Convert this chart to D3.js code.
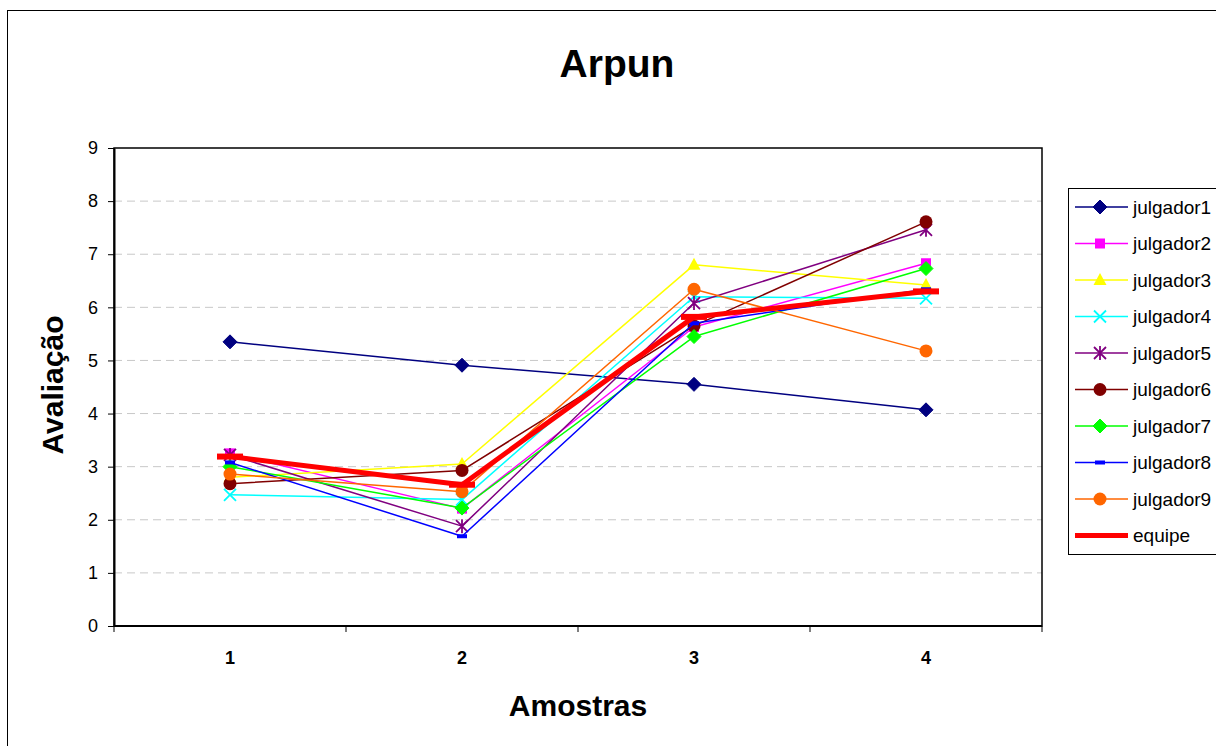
<!DOCTYPE html>
<html>
<head>
<meta charset="utf-8">
<script src="https://cdn.jsdelivr.net/npm/d3@7"></script>
<style>
  body { margin: 0; background: #fff; }
  svg { display: block; font-family: Arial, "Liberation Sans", sans-serif; }
</style>
</head>
<body>
<script>
const samples = [1, 2, 3, 4];
const yTicks = [0, 1, 2, 3, 4, 5, 6, 7, 8, 9];
const names = ["julgador1", "julgador2", "julgador3", "julgador4", "julgador5",
               "julgador6", "julgador7", "julgador8", "julgador9", "equipe"];

const julgador1 = [5.35, 4.91, 4.55, 4.07];
const julgador2 = [3.25, 2.21, 5.63, 6.83];
const julgador3 = [2.80, 3.05, 6.80, 6.42];
const julgador4 = [2.47, 2.38, 6.20, 6.17];
const julgador5 = [3.22, 1.88, 6.08, 7.46];
const julgador6 = [2.68, 2.93, 5.65, 7.61];
const julgador7 = [3.00, 2.22, 5.45, 6.73];
const julgador8 = [3.08, 1.69, 5.70, 6.34];
const julgador9 = [2.86, 2.53, 6.34, 5.18];
const equipe    = [3.19, 2.66, 5.82, 6.30];

const colors  = ["#000080", "#ff00ff", "#ffff00", "#00ffff", "#800080",
                 "#800000", "#00ff00", "#0000ff", "#ff6600", "#ff0000"];
const markers = ["diamond", "square", "triangle", "x", "star",
                 "circle", "diamond", "dash", "circle", "bigdash"];

const allValues = [julgador1, julgador2, julgador3, julgador4, julgador5,
                   julgador6, julgador7, julgador8, julgador9, equipe];
const series = names.map((n, i) => ({ name: n, values: allValues[i], color: colors[i], marker: markers[i] }));

const w = 1216, h = 746;
const pLeft = 114, pRight = 1042, pTop = 148, pBottom = 626;

const svg = d3.select("body").append("svg").attr("width", w).attr("height", h);

// chart area border
svg.append("rect")
  .attr("x", 7.5).attr("y", 10.5).attr("width", 1240).attr("height", 760)
  .attr("fill", "#fff").attr("stroke", "#000").attr("stroke-width", 1);

const x = d3.scaleBand().domain(samples).range([pLeft, pRight]);
const y = d3.scaleLinear().domain([0, 9]).range([pBottom, pTop]);
const cx = d => x(d) + x.bandwidth() / 2;

// gridlines
svg.append("g")
  .selectAll("line")
  .data(yTicks.filter(t => t > 0 && t < 9))
  .enter()
  .append("line")
    .attr("x1", pLeft).attr("x2", pRight)
    .attr("y1", d => y(d)).attr("y2", d => y(d))
    .attr("stroke", "#c8c8c8")
    .attr("stroke-dasharray", "8,5")
    .attr("stroke-width", 1);

// plot border
svg.append("rect")
  .attr("x", pLeft).attr("y", pTop)
  .attr("width", pRight - pLeft).attr("height", pBottom - pTop)
  .attr("fill", "none").attr("stroke", "#000").attr("stroke-width", 1.5);

// y axis
const yAxis = svg.append("g")
  .attr("transform", `translate(${pLeft},0)`)
  .call(d3.axisLeft(y).tickValues(yTicks).tickSize(6).tickPadding(10).tickSizeOuter(0));
yAxis.select(".domain").attr("stroke", "#000").attr("stroke-width", 2);
yAxis.selectAll("text").attr("font-size", "18px").attr("fill", "#000")
  .attr("font-family", "Arial, 'Liberation Sans', sans-serif");

// x axis line and boundary ticks
svg.append("line")
  .attr("x1", pLeft).attr("x2", pRight).attr("y1", pBottom).attr("y2", pBottom)
  .attr("stroke", "#000").attr("stroke-width", 2);
svg.append("g")
  .selectAll("line")
  .data(samples.map(d => x(d)).concat([pRight]))
  .enter()
  .append("line")
    .attr("x1", d => d).attr("x2", d => d)
    .attr("y1", pBottom).attr("y2", pBottom + 6)
    .attr("stroke", "#000").attr("stroke-width", 1);
svg.append("g")
  .selectAll("text")
  .data(samples)
  .enter()
  .append("text")
    .attr("x", d => cx(d)).attr("y", 664)
    .attr("text-anchor", "middle")
    .attr("font-size", "18px").attr("font-weight", "bold")
    .text(d => d);

// titles
svg.append("text")
  .attr("x", 617).attr("y", 77)
  .attr("text-anchor", "middle")
  .attr("font-size", "39px").attr("font-weight", "bold")
  .text("Arpun");
svg.append("text")
  .attr("x", 578).attr("y", 716)
  .attr("text-anchor", "middle")
  .attr("font-size", "30px").attr("font-weight", "bold")
  .text("Amostras");
svg.append("text")
  .attr("transform", "translate(63,385) rotate(-90)")
  .attr("text-anchor", "middle")
  .attr("font-size", "30px").attr("font-weight", "bold")
  .text("Avaliação");

// marker drawing
function drawMarker(g, type, color, px, py) {
  if (type === "diamond") {
    g.append("path").attr("d", `M${px},${py-7}L${px+7},${py}L${px},${py+7}L${px-7},${py}Z`)
      .attr("fill", color).attr("stroke", color).attr("stroke-width", 1);
  } else if (type === "square") {
    g.append("rect").attr("x", px - 5).attr("y", py - 5).attr("width", 10).attr("height", 10)
      .attr("fill", color);
  } else if (type === "triangle") {
    g.append("path").attr("d", `M${px},${py-7}L${px+6.5},${py+5}L${px-6.5},${py+5}Z`)
      .attr("fill", color);
  } else if (type === "x") {
    g.append("path").attr("d", `M${px-6},${py-6}L${px+6},${py+6}M${px-6},${py+6}L${px+6},${py-6}`)
      .attr("stroke", color).attr("stroke-width", 1.8).attr("fill", "none");
  } else if (type === "star") {
    g.append("path").attr("d", `M${px-6},${py-6}L${px+6},${py+6}M${px-6},${py+6}L${px+6},${py-6}M${px},${py-7}L${px},${py+7}`)
      .attr("stroke", color).attr("stroke-width", 1.8).attr("fill", "none");
  } else if (type === "circle") {
    g.append("circle").attr("cx", px).attr("cy", py).attr("r", 6.5).attr("fill", color);
  } else if (type === "dash") {
    g.append("rect").attr("x", px - 5).attr("y", py - 2).attr("width", 10).attr("height", 4)
      .attr("fill", color);
  } else if (type === "bigdash") {
    g.append("rect").attr("x", px - 13).attr("y", py - 3).attr("width", 26).attr("height", 6)
      .attr("fill", color);
  }
}

const line = d3.line().x((d, i) => cx(samples[i])).y(d => y(d));

series.forEach(s => {
  const g = svg.append("g").attr("class", "series");
  g.append("path")
    .attr("d", line(s.values))
    .attr("fill", "none")
    .attr("stroke", s.color)
    .attr("stroke-width", s.name === "equipe" ? 5 : 1.5)
    .attr("stroke-linejoin", "round");
  s.values.forEach((v, i) => drawMarker(g, s.marker, s.color, cx(samples[i]), y(v)));
});

// legend
const lg = svg.append("g");
lg.append("rect")
  .attr("x", 1068.5).attr("y", 188.5).attr("width", 200).attr("height", 366)
  .attr("fill", "#fff").attr("stroke", "#000").attr("stroke-width", 1);
series.forEach((s, i) => {
  const ly = 207 + i * 36.5;
  const g = lg.append("g");
  g.append("line")
    .attr("x1", 1075).attr("x2", 1128).attr("y1", ly).attr("y2", ly)
    .attr("stroke", s.color).attr("stroke-width", s.name === "equipe" ? 5 : 1.5);
  if (s.name !== "equipe") drawMarker(g, s.marker, s.color, 1100, ly);
  g.append("text")
    .attr("x", 1133).attr("y", ly + 6.5)
    .attr("font-size", "19px")
    .text(s.name);
});
</script>
</body>
</html>
